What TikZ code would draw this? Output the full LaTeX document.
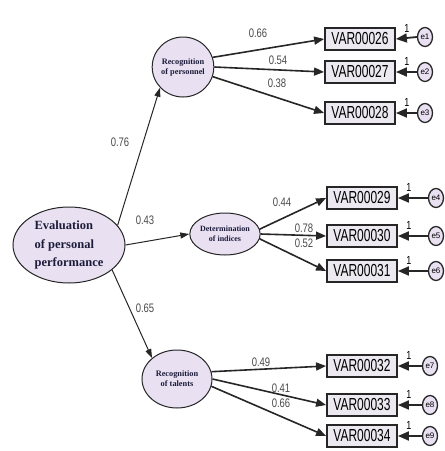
\documentclass[tikz,border=0pt]{standalone}
\usepackage{fontspec}
\usepackage{graphicx}
\setmainfont{Liberation Serif}
\newfontfamily\armfont{Liberation Sans}
\usetikzlibrary{arrows.meta,shapes.geometric}
\definecolor{lav}{HTML}{E9E0F2}
\definecolor{boxfill}{HTML}{ECE9F1}
\definecolor{inktext}{HTML}{1C1C3A}
\definecolor{coefgray}{HTML}{4A4A4A}
\newcommand{\tall}[2][1.45]{\scalebox{1}[#1]{#2}}

\begin{document}
\begin{tikzpicture}[x=1pt,y=-1pt,
  latent/.style={ellipse, draw=black!85, line width=1pt, fill=lav,
    inner sep=0pt, text=inktext, align=center},
  obs/.style={rectangle, draw=black!85, line width=1.8pt, fill=boxfill,
    minimum width=70pt, minimum height=22pt, inner sep=0pt,
    font=\armfont\fontsize{12}{12}\selectfont},
  err/.style={ellipse, draw=black!85, line width=1.3pt, fill=lav,
    minimum width=15pt, minimum height=19pt, inner sep=0pt,
    font=\armfont\fontsize{8}{8}\selectfont},
  path/.style={line width=1.6pt, draw=black!85,
    -{Triangle[length=10pt,width=8pt]}},
  struct/.style={line width=1pt, draw=black!85,
    -{Triangle[length=9pt,width=6pt]}},
  errarrow/.style={line width=1.8pt, draw=black!85,
    -{Triangle[length=11pt,width=9pt]}},
  coef/.style={font=\armfont\fontsize{9.5}{9.5}\selectfont, text=coefgray, inner sep=0pt},
  one/.style={font=\armfont\fontsize{9}{9}\selectfont, inner sep=0pt}
]
\useasboundingbox (0,0) rectangle (445,451);

% latent factors
\node[latent, minimum width=112pt, minimum height=76pt, align=left,
  font=\bfseries\fontsize{12.5}{18.5}\selectfont] (main) at (69,245)
  {Evaluation\\of personal\\performance};
\node[latent, minimum width=60pt, minimum height=60pt,
  font=\bfseries\fontsize{8.3}{10}\selectfont] (rp) at (183,67)
  {Recognition\\of personnel};
\node[latent, minimum width=66pt, minimum height=42pt,
  font=\bfseries\fontsize{8}{10}\selectfont] (di) at (225,234)
  {Determination\\of indices};
\node[latent, minimum width=70pt, minimum height=58pt,
  font=\bfseries\fontsize{8.3}{10}\selectfont] (rt) at (177,379)
  {Recognition\\of talents};

% observed indicators
\node[obs] (v26) at (360,39)  {\tall{VAR00026}};
\node[obs] (v27) at (360,72)  {\tall{VAR00027}};
\node[obs] (v28) at (360,113) {\tall{VAR00028}};
\node[obs] (v29) at (362,198) {\tall{VAR00029}};
\node[obs] (v30) at (362,236) {\tall{VAR00030}};
\node[obs] (v31) at (362,271) {\tall{VAR00031}};
\node[obs] (v32) at (362,366) {\tall{VAR00032}};
\node[obs] (v33) at (362,405) {\tall{VAR00033}};
\node[obs] (v34) at (362,436) {\tall{VAR00034}};

% error terms
\node[err] (e1) at (425,37)  {e1};
\node[err] (e2) at (425,72)  {e2};
\node[err] (e3) at (425,113) {e3};
\node[err] (e4) at (436,198) {e4};
\node[err] (e5) at (436,236) {e5};
\node[err] (e6) at (436,271) {e6};
\node[err] (e7) at (430,366) {e7};
\node[err] (e8) at (430,405) {e8};
\node[err] (e9) at (430,436) {e9};

% structural paths
\draw[struct] (main.22) -- (rp.222);
\draw[struct] (main.east) -- (di.west);
\draw[struct] (main.-30) -- (rt.140);

% measurement paths
\draw[path] (rp.18)  -- (v26.west);
\draw[path] (rp.0)   -- (v27.west);
\draw[path] (rp.-18) -- (v28.west);
\draw[path] (di.8)   -- (v29.west);
\draw[path] (di.0)   -- (v30.west);
\draw[path] (di.-8)  -- (v31.west);
\draw[path] (rt.12)  -- (v32.west);
\draw[path] (rt.0)   -- (v33.west);
\draw[path] (rt.-12) -- (v34.west);

% error paths
\foreach \e/\v in {e1/v26,e2/v27,e3/v28,e4/v29,e5/v30,e6/v31,e7/v32,e8/v33,e9/v34}
  \draw[errarrow] (\e.west) -- (\v.east);

% fixed loadings
\foreach \v in {v26,v27,v28,v29,v30,v31,v32,v33,v34}
  \node[one] (one-\v) at ([xshift=11pt,yshift=-1pt]\v.north east) {\tall[1.3]{1}};

% coefficients
\node[coef] (c1) at (120,142) {\tall[1.3]{0.76}};
\node[coef] (c2) at (145,220) {\tall[1.3]{0.43}};
\node[coef] (c3) at (145,308) {\tall[1.3]{0.65}};
\node[coef] (c4) at (258,33)  {\tall[1.3]{0.66}};
\node[coef] (c5) at (278,60)  {\tall[1.3]{0.54}};
\node[coef] (c6) at (277,83)  {\tall[1.3]{0.38}};
\node[coef] (c7) at (282,202) {\tall[1.3]{0.44}};
\node[coef] (c8) at (304,228) {\tall[1.3]{0.78}};
\node[coef] (c9) at (304,243) {\tall[1.3]{0.52}};
\node[coef] (c10) at (261,362) {\tall[1.3]{0.49}};
\node[coef] (c11) at (281,388) {\tall[1.3]{0.41}};
\node[coef] (c12) at (281,403) {\tall[1.3]{0.66}};
\end{tikzpicture}
\end{document}
